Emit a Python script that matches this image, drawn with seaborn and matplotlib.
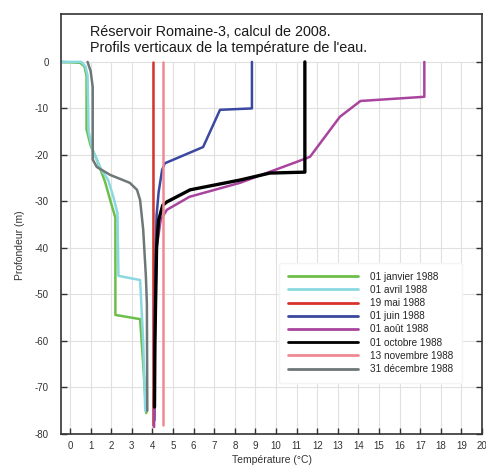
import matplotlib
matplotlib.use("Agg")
import matplotlib.pyplot as plt
import seaborn as sns
import pandas as pd

# Vertical water temperature profiles (temperature °C, depth m)
labels = ["01 janvier 1988", "01 avril 1988", "19 mai 1988", "01 juin 1988",
          "01 août 1988", "01 octobre 1988", "13 novembre 1988", "31 décembre 1988"]
colors = ["#6cbf4a", "#8ad8e0", "#d8322c", "#3a48a0",
          "#a9449e", "#000000", "#f08a92", "#6e7778"]

janvier_t = [-0.4, 0.5, 0.7, 0.8, 0.8, 1.0, 1.3, 1.7, 2.0, 2.2, 2.2, 3.4, 3.55, 3.7]
janvier_z = [0.0, -0.2, -1.0, -3.0, -14.5, -18.0, -21.0, -25.8, -30.5, -33.5, -54.4, -55.3, -65.0, -75.5]

avril_t = [-0.4, 0.55, 0.75, 0.85, 0.9, 1.1, 1.5, 1.85, 2.1, 2.3, 2.35, 3.4, 3.55, 3.65]
avril_z = [0.0, 0.0, -1.0, -3.0, -15.0, -19.0, -23.0, -25.4, -29.0, -32.5, -46.0, -46.9, -60.0, -75.0]

mai_t = [4.02, 4.02]
mai_z = [0.0, -78.0]

juin_t = [8.83, 8.83, 7.28, 6.46, 4.6, 4.47, 4.3, 4.2, 4.12, 4.1]
juin_z = [0.0, -10.0, -10.3, -18.3, -21.8, -23.2, -28.0, -33.0, -50.0, -77.0]

aout_t = [17.2, 17.2, 14.1, 13.1, 11.65, 11.0, 8.25, 5.8, 4.7, 4.4, 4.2, 4.12, 4.08]
aout_z = [0.0, -7.5, -8.4, -11.8, -20.4, -21.5, -26.0, -29.0, -31.8, -34.0, -40.0, -60.0, -78.5]

octobre_t = [11.4, 11.4, 9.7, 8.25, 5.83, 4.7, 4.5, 4.3, 4.2, 4.12, 4.1]
octobre_z = [0.0, -23.7, -23.9, -25.4, -27.5, -30.1, -30.8, -34.0, -40.0, -60.0, -74.2]

novembre_t = [4.5, 4.5]
novembre_z = [0.0, -78.0]

decembre_t = [0.85, 1.0, 1.1, 1.1, 1.3, 1.95, 2.9, 3.25, 3.4, 3.55, 3.68, 3.73, 3.75]
decembre_z = [0.0, -2.0, -5.4, -21.0, -22.6, -24.3, -26.0, -27.5, -29.7, -36.0, -46.0, -52.0, -75.0]

profiles = [(janvier_t, janvier_z), (avril_t, avril_z), (mai_t, mai_z), (juin_t, juin_z),
            (aout_t, aout_z), (octobre_t, octobre_z), (novembre_t, novembre_z),
            (decembre_t, decembre_z)]

frames = []
for lab, (t, z) in zip(labels, profiles):
    frames.append(pd.DataFrame({"date": lab, "temp": t, "depth": z}))
df = pd.concat(frames, ignore_index=True)

sns.set_theme(style="white")
plt.rcParams["font.family"] = ["Liberation Sans", "DejaVu Sans"]
plt.rcParams["axes.unicode_minus"] = False

fig = plt.figure(figsize=(4.86, 4.69), dpi=100)
ax = fig.add_axes([61 / 486, 1 - 434 / 469, 421 / 486, 420 / 469])

sns.lineplot(data=df, x="temp", y="depth", hue="date", hue_order=labels,
             palette=dict(zip(labels, colors)), sort=False, estimator=None,
             linewidth=1.8, ax=ax, legend=True)
for line, lab in zip(ax.get_lines(), labels):
    if lab == "01 octobre 1988":
        line.set_linewidth(2.4)

ax.set_xlim(-0.44, 20.0)
ax.set_ylim(-80, 10.3)
ax.set_xticks(range(0, 21))
ax.set_yticks(range(-80, 1, 10))
ax.tick_params(axis="both", labelsize=7, colors="#333333", direction="in",
               length=4, width=1)
ax.tick_params(axis="y", right=True, left=True, pad=9)
ax.tick_params(axis="x", bottom=True, pad=5)

# light grid: each degree, every 10 m
for xv in range(0, 21):
    ax.axvline(xv, ymin=0, ymax=80 / 90.3, color="#e0e0e0", lw=0.8, zorder=0)
for yv in range(-70, 1, 10):
    ax.axhline(yv, color="#e0e0e0", lw=0.8, zorder=0)

for sp in ax.spines.values():
    sp.set_color("#333333")
    sp.set_linewidth(1.2)

ax.set_xlabel("Température (°C)", fontsize=7.5, color="#333333", labelpad=3)
ax.set_ylabel("Profondeur (m)", fontsize=7.5, color="#333333")
ax.yaxis.set_label_coords(-0.085, 0.45)

ax.text(0.97, 6.4, "Réservoir Romaine-3, calcul de 2008.", fontsize=10.4,
        color="#1a1a1a", va="center", ha="left")
ax.text(0.97, 2.9, "Profils verticaux de la température de l'eau.", fontsize=10.4,
        color="#1a1a1a", va="center", ha="left")

handles, _ = ax.get_legend_handles_labels()
leg = ax.legend(handles, labels, loc="upper left", bbox_to_anchor=(0.505, 0.42),
                fontsize=7.2, frameon=True, framealpha=1, facecolor="white",
                edgecolor="#f4f4f4", handlelength=7, labelspacing=0.32,
                handletextpad=1.2, borderpad=0.9)
for h in leg.get_lines():
    h.set_linewidth(2)

fig.savefig("out.png", dpi=100)
